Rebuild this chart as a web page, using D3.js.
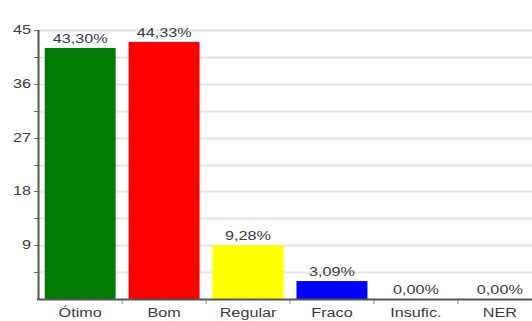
<!DOCTYPE html>
<html lang="pt">
<head>
  <meta charset="UTF-8">
  <title>Chart</title>
  <style>
    body { margin: 0; background: #fff; }
    text { font-family: "Liberation Sans", Arial, sans-serif; fill: #3a3a3a; }
  </style>
</head>
<body>
  <svg width="532" height="321"></svg>
  <script src="https://d3js.org/d3.v7.min.js"></script>
  <script>

  // data: counts per category, labels show share of total
  var categories = ['Ótimo', 'Bom', 'Regular', 'Fraco', 'Insufic.', 'NER'];
  var counts = [42, 43, 9, 3, 0, 0];
  var pctLabels = ['43,30%', '44,33%', '9,28%', '3,09%', '0,00%', '0,00%'];
  var colors = ['#007a00', '#ff0000', '#ffff00', '#0000ff', '#888888', '#888888'];
  var yTicks = [9, 18, 27, 36, 45];
  var yMinor = [4.5, 13.5, 22.5, 31.5, 40.5];

  var svg = d3.select('svg');
  var stretch = 1.35;   // text in the reference is drawn wide

  var x = d3.scaleBand()
    .domain(categories)
    .range([38, 542])
    .paddingInner(0.155)
    .paddingOuter(0.08);

  var y = d3.scaleLinear()
    .domain([0, 45])
    .range([299, 30]);

  // grid lines every 4.5
  svg.append('g')
    .selectAll('line')
    .data(yTicks.concat(yMinor))
    .enter()
    .append('line')
    .attr('x1', 39).attr('x2', 532)
    .attr('y1', function(d) { return Math.round(y(d)) + 0.5; })
    .attr('y2', function(d) { return Math.round(y(d)) + 0.5; })
    .style('stroke', '#e3e3e3')
    .style('stroke-width', 2);

  // bars
  svg.append('g')
    .selectAll('rect')
    .data(counts)
    .enter()
    .append('rect')
    .attr('x', function(d, i) { return x(categories[i]); })
    .attr('width', x.bandwidth())
    .attr('y', function(d) { return y(d); })
    .attr('height', function(d) { return y(0) - y(d); })
    .style('fill', function(d, i) { return colors[i]; });

  // value labels
  svg.append('g')
    .selectAll('text')
    .data(counts)
    .enter()
    .append('text')
    .attr('transform', function(d, i) {
      var cx = x(categories[i]) + x.bandwidth() / 2;
      return 'translate(' + cx + ',' + (y(d) - 5) + ') scale(' + stretch + ',1)';
    })
    .attr('text-anchor', 'middle')
    .style('font-size', '12px')
    .text(function(d, i) { return pctLabels[i]; });

  // y axis
  var yAxis = svg.append('g');
  yAxis.append('line')
    .attr('x1', 38.5).attr('x2', 38.5)
    .attr('y1', 30).attr('y2', 300)
    .style('stroke', '#555').style('stroke-width', 2);

  yAxis.selectAll('line.tick')
    .data(yTicks.concat(yMinor))
    .enter()
    .append('line')
    .attr('class', 'tick')
    .attr('x1', 34).attr('x2', 38)
    .attr('y1', function(d) { return Math.round(y(d)) + 0.5; })
    .attr('y2', function(d) { return Math.round(y(d)) + 0.5; })
    .style('stroke', '#666');

  yAxis.selectAll('text')
    .data(yTicks)
    .enter()
    .append('text')
    .attr('transform', function(d) {
      return 'translate(31,' + (y(d) + 4) + ') scale(' + stretch + ',1)';
    })
    .attr('text-anchor', 'end')
    .style('font-size', '12px')
    .text(function(d) { return d; });

  // x axis
  var xAxis = svg.append('g');
  xAxis.append('line')
    .attr('x1', 37).attr('x2', 532)
    .attr('y1', 299.5).attr('y2', 299.5)
    .style('stroke', '#555').style('stroke-width', 2);

  xAxis.selectAll('line.tick')
    .data(categories.slice(1))
    .enter()
    .append('line')
    .attr('class', 'tick')
    .attr('x1', function(d) { return x(d) - x.step() * x.paddingInner() / 2; })
    .attr('x2', function(d) { return x(d) - x.step() * x.paddingInner() / 2; })
    .attr('y1', 300).attr('y2', 304)
    .style('stroke', '#888');

  xAxis.selectAll('text')
    .data(categories)
    .enter()
    .append('text')
    .attr('transform', function(d) {
      return 'translate(' + (x(d) + x.bandwidth() / 2) + ',317) scale(' + stretch + ',1)';
    })
    .attr('text-anchor', 'middle')
    .style('font-size', '12px')
    .text(function(d) { return d; });

  </script>
</body>
</html>
